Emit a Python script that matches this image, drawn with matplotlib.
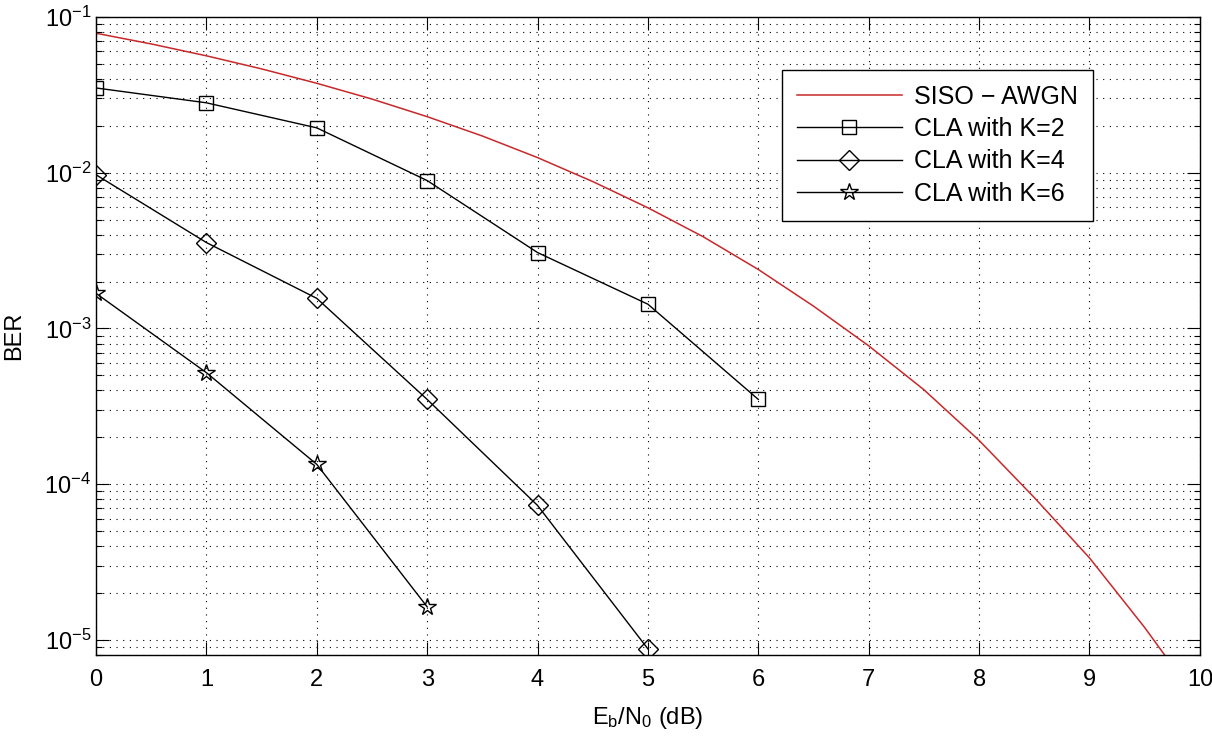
import numpy as np
import matplotlib
matplotlib.use("Agg")
import matplotlib.pyplot as plt
from matplotlib.ticker import LogLocator, NullFormatter

plt.rcParams['font.family'] = ['Liberation Sans', 'DejaVu Sans']
plt.rcParams['mathtext.fontset'] = 'custom'
plt.rcParams['mathtext.rm'] = 'Liberation Sans'
plt.rcParams['mathtext.it'] = 'Liberation Sans'

# theoretical SISO curve
snr_awgn = [0, 0.5, 1, 1.5, 2, 2.5, 3, 3.5, 4, 4.5, 5, 5.5, 6, 6.5, 7, 7.5, 8, 8.5, 9, 9.5, 10]
ber_awgn = [0.0786, 0.0671, 0.0563, 0.0464, 0.0375, 0.0297, 0.0229, 0.0172, 0.0125,
            0.00877, 0.00595, 0.00388, 0.00239, 0.00139, 7.73e-4, 4.04e-4, 1.91e-4,
            8.2e-5, 3.36e-5, 1.2e-5, 3.9e-6]

snr_k2 = [0, 1, 2, 3, 4, 5, 6]
ber_k2 = [0.035, 0.0281, 0.0194, 0.0089, 0.00307, 0.00143, 3.5e-4]

snr_k4 = [0, 1, 2, 3, 4, 5]
ber_k4 = [0.0097, 0.00356, 0.00156, 3.5e-4, 7.3e-5, 8.75e-6]

snr_k6 = [0, 1, 2, 3]
ber_k6 = [0.00168, 5.2e-4, 1.34e-4, 1.63e-5]

labels = ['SISO \u2212 AWGN', 'CLA with K=2', 'CLA with K=4', 'CLA with K=6']

fig = plt.figure(figsize=(12.12, 7.37), dpi=100)
ax = fig.add_axes([0.0792, 0.1113, 0.9108, 0.8657])

ax.semilogy(snr_awgn, ber_awgn, color='#c8282a', lw=1.1, label=labels[0])
ax.semilogy(snr_k2, ber_k2, 'k-s', lw=1.0, ms=10, mfc='none', mew=1.0, label=labels[1])
ax.semilogy(snr_k4, ber_k4, 'k-D', lw=1.0, ms=10, mfc='none', mew=1.0, label=labels[2])
ax.semilogy(snr_k6, ber_k6, 'k-*', lw=1.0, ms=13, mfc='none', mew=1.0, label=labels[3])

ax.set_xlim(0, 10)
ax.set_ylim(8e-6, 1e-1)
ax.set_xticks(range(0, 11))
ax.yaxis.set_major_locator(LogLocator(base=10, numticks=10))
ax.yaxis.set_minor_locator(LogLocator(base=10, subs=np.arange(2, 10), numticks=20))
ax.yaxis.set_minor_formatter(NullFormatter())

ax.grid(True, which='major', axis='both', color='k', linestyle=(0, (1, 5)), lw=0.8)
ax.grid(True, which='minor', axis='y', color='k', linestyle=(0, (1, 5)), lw=0.8)

ax.tick_params(which='both', direction='in', top=True, right=True, labelsize=17)
ax.tick_params(which='major', length=9.5, width=0.8)
ax.tick_params(which='minor', length=4.5, width=0.8)
ax.tick_params(axis='x', pad=10)
for s in ax.spines.values():
    s.set_linewidth(1.0)

ax.set_xlabel(r'E$_\mathrm{b}$/N$_\mathrm{0}$ (dB)', fontsize=17, labelpad=10)
ax.set_ylabel('BER', fontsize=17, labelpad=14)

leg = ax.legend(loc='upper left', bbox_to_anchor=(0.621, 0.917), fontsize=18,
                handlelength=4.2, handletextpad=0.5, frameon=True, fancybox=False,
                framealpha=1, edgecolor='k', borderpad=0.6, labelspacing=0.33,
                borderaxespad=0)
leg.get_frame().set_linewidth(1.0)

fig.savefig('out.png', dpi=100)
